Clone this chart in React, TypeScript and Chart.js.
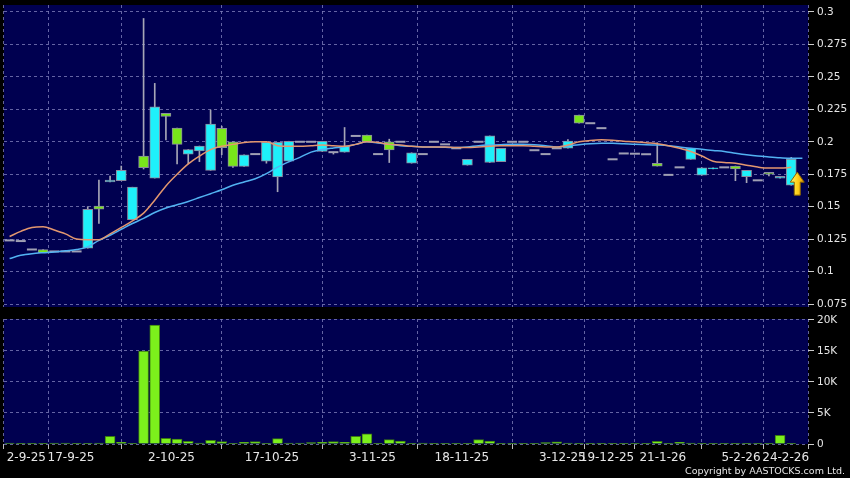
import React, { useEffect, useRef } from 'react';
import { Chart, registerables } from 'chart.js';

Chart.register(...registerables);

// ---- data ----
const tickDates = ['2-9-25', '17-9-25', '2-10-25', '17-10-25', '3-11-25', '18-11-25', '3-12-25', '19-12-25', '21-1-26', '5-2-26', '24-2-26'];
// index of the trading session each date label belongs to
const tickSessions = [2, 6, 15, 24, 33, 41, 50, 54, 59, 66, 70];

const opens = [
  0.124, 0.1235, 0.117, 0.117, 0.1155, 0.1155, 0.1155, 0.118, 0.1505, 0.169,
  0.170, 0.140, 0.189, 0.172, 0.222, 0.2105, 0.1905, 0.193, 0.178, 0.2104,
  0.200, 0.181, 0.1905, 0.185, 0.173, 0.185, 0.200, 0.200, 0.1925, 0.192,
  0.192, 0.2045, 0.2052, 0.1905, 0.200, 0.200, 0.1835, 0.1905, 0.200, 0.198,
  0.195, 0.182, 0.200, 0.184, 0.1847, 0.200, 0.200, 0.1935, 0.1905, 0.195,
  0.195, 0.2205, 0.2143, 0.2105, 0.1865, 0.191, 0.1908, 0.1904, 0.1834, 0.1745,
  0.1803, 0.1865, 0.1742, 0.179, 0.1803, 0.1813, 0.1731, 0.1703, 0.1765, 0.172,
  0.1665,
];
const highs = [
  0.124, 0.1235, 0.117, 0.117, 0.1155, 0.1155, 0.1155, 0.150, 0.1705, 0.1735,
  0.1813, 0.165, 0.295, 0.245, 0.222, 0.2105, 0.194, 0.1967, 0.2245, 0.212,
  0.200, 0.190, 0.1905, 0.1996, 0.1996, 0.2004, 0.200, 0.200, 0.2004, 0.192,
  0.211, 0.2045, 0.2052, 0.1905, 0.202, 0.200, 0.1915, 0.1905, 0.200, 0.198,
  0.195, 0.1865, 0.200, 0.2045, 0.195, 0.200, 0.200, 0.1935, 0.1905, 0.195,
  0.2017, 0.2205, 0.2143, 0.2105, 0.1865, 0.191, 0.1908, 0.1904, 0.1993, 0.1745,
  0.1803, 0.195, 0.180, 0.180, 0.1803, 0.1813, 0.178, 0.1703, 0.1765, 0.1734,
  0.188,
];
const lows = [
  0.124, 0.1235, 0.117, 0.1145, 0.1155, 0.1155, 0.1155, 0.118, 0.137, 0.169,
  0.170, 0.140, 0.179, 0.172, 0.2015, 0.183, 0.183, 0.1847, 0.178, 0.190,
  0.1803, 0.181, 0.1905, 0.1835, 0.1615, 0.185, 0.200, 0.200, 0.1925, 0.1905,
  0.192, 0.2045, 0.200, 0.1905, 0.184, 0.200, 0.1835, 0.1905, 0.200, 0.198,
  0.195, 0.182, 0.200, 0.184, 0.1847, 0.200, 0.200, 0.1935, 0.1905, 0.195,
  0.195, 0.2143, 0.2143, 0.2105, 0.1865, 0.191, 0.1908, 0.1904, 0.1813, 0.1745,
  0.1803, 0.1865, 0.1742, 0.179, 0.1803, 0.170, 0.1685, 0.1703, 0.1737, 0.172,
  0.1665,
];
const closes = [
  0.124, 0.1235, 0.117, 0.1145, 0.1155, 0.1155, 0.1155, 0.148, 0.148, 0.1705,
  0.178, 0.165, 0.180, 0.227, 0.2195, 0.198, 0.194, 0.1967, 0.2137, 0.1955,
  0.181, 0.190, 0.1905, 0.1996, 0.1996, 0.2004, 0.200, 0.200, 0.2004, 0.192,
  0.1967, 0.2045, 0.200, 0.1905, 0.1937, 0.200, 0.1915, 0.1905, 0.200, 0.198,
  0.195, 0.1865, 0.200, 0.2045, 0.195, 0.200, 0.200, 0.1935, 0.1905, 0.195,
  0.2005, 0.2143, 0.2143, 0.2105, 0.1865, 0.191, 0.1908, 0.1904, 0.1813, 0.1745,
  0.1803, 0.195, 0.180, 0.180, 0.1803, 0.179, 0.178, 0.1703, 0.175, 0.1734,
  0.1867,
];
const volumes = [
  150, 30, 30, 60, 150, 150, 20, 60, 150, 1250,
  270, 20, 15000, 19200, 920, 810, 430, 160, 600, 380,
  20, 270, 380, 100, 870, 160, 160, 220, 270, 380,
  270, 1250, 1630, 20, 700, 490, 50, 160, 100, 30,
  30, 50, 700, 490, 30, 20, 20, 100, 220, 330,
  160, 100, 100, 50, 20, 20, 50, 20, 430, 20,
  270, 160, 20, 50, 50, 100, 20, 20, 20, 1400,
  100,
];
const maShort = [
  0.127, 0.131, 0.134, 0.1345, 0.132, 0.129, 0.125, 0.1245, 0.1245, 0.129,
  0.134, 0.139, 0.145, 0.155, 0.166, 0.175, 0.183, 0.189, 0.194, 0.1965,
  0.198, 0.1995, 0.200, 0.200, 0.197, 0.1965, 0.1965, 0.197, 0.1975, 0.197,
  0.1965, 0.198, 0.200, 0.1995, 0.198, 0.1975, 0.1965, 0.196, 0.196, 0.196,
  0.1955, 0.1955, 0.196, 0.1965, 0.197, 0.197, 0.197, 0.1965, 0.196, 0.196,
  0.1975, 0.200, 0.201, 0.2015, 0.2012, 0.2005, 0.200, 0.1992, 0.1985, 0.197,
  0.195, 0.1925, 0.189, 0.185, 0.184, 0.1835, 0.182, 0.1805, 0.1797, 0.1797,
  0.1803,
];
const maLong = [
  0.110, 0.1125, 0.1138, 0.1145, 0.115, 0.116, 0.117, 0.119, 0.124, 0.128,
  0.1325, 0.137, 0.141, 0.1455, 0.149, 0.1515, 0.154, 0.157, 0.160, 0.163,
  0.1665, 0.169, 0.1715, 0.1755, 0.1805, 0.1845, 0.188, 0.192, 0.194, 0.1952,
  0.1962, 0.198, 0.200, 0.199, 0.198, 0.197, 0.1965, 0.196, 0.196, 0.1958,
  0.1955, 0.196, 0.197, 0.1975, 0.1978, 0.198, 0.198, 0.1978, 0.197, 0.196,
  0.1968, 0.1978, 0.1985, 0.1988, 0.1988, 0.1985, 0.198, 0.1978, 0.1975, 0.197,
  0.196, 0.195, 0.1942, 0.1933, 0.1925, 0.1912, 0.190, 0.189, 0.1883, 0.1877,
  0.1873, 0.1873,
];
const priceTicks = [0.075, 0.1, 0.125, 0.15, 0.175, 0.2, 0.225, 0.25, 0.275, 0.3];
const volumeTicks = [0, 5000, 10000, 15000, 20000];
const volumeTickLabels = ['0', '5K', '10K', '15K', '20K'];

// ---- styles ----
const NAVY = '#000050';
const GRID = 'rgba(125,125,185,0.8)';
const TEXT = '#e6e6e6';
const CYAN = '#1ef0fa';
const GREEN = '#78e61a';
const CANDLE_EDGE = '#8a8aa0';
const WICK = '#a6a6b6';
const DOJI = '#a0a0b4';
const VOL_GREEN = '#7cf01c';
const VOL_EDGE = '#3c7a12';
const MA_SHORT = '#e3976f';
const MA_LONG = '#52b2f2';
const FONT = '"DejaVu Sans", sans-serif';
const SLOTS = 72;

Chart.defaults.font.family = FONT;
Chart.defaults.color = TEXT;

const bgPlugin = {
  id: 'plotBg',
  beforeDraw(chart: any) {
    const { ctx, chartArea: a } = chart;
    ctx.save();
    ctx.fillStyle = NAVY;
    ctx.fillRect(a.left, a.top, a.right - a.left, a.bottom - a.top);
    ctx.restore();
  },
};

const arrowPlugin = {
  id: 'lastArrow',
  afterDatasetsDraw(chart: any) {
    const { ctx } = chart;
    const last = closes.length - 1;
    const cx = chart.scales.x.getPixelForValue(last) + 6;
    const tip = chart.scales.y.getPixelForValue((opens[last] + closes[last]) / 2);
    const len = 23, headH = 10, headW = 7, shaft = 3;
    ctx.save();
    const g = ctx.createLinearGradient(cx - headW, 0, cx + headW, 0);
    g.addColorStop(0, '#fff36a');
    g.addColorStop(0.5, '#ffd21a');
    g.addColorStop(1, '#e59a00');
    ctx.beginPath();
    ctx.moveTo(cx, tip);
    ctx.lineTo(cx + headW, tip + headH);
    ctx.lineTo(cx + shaft, tip + headH);
    ctx.lineTo(cx + shaft, tip + len);
    ctx.lineTo(cx - shaft, tip + len);
    ctx.lineTo(cx - shaft, tip + headH);
    ctx.lineTo(cx - headW, tip + headH);
    ctx.closePath();
    ctx.fillStyle = g;
    ctx.fill();
    ctx.lineWidth = 1;
    ctx.strokeStyle = '#8a6400';
    ctx.stroke();
    ctx.restore();
  },
};

function zeroPadding(s: any) {
  s.paddingTop = 0;
  s.paddingBottom = 0;
  s.paddingLeft = 0;
  s.paddingRight = 0;
}

function xAxis(showLabels: boolean) {
  return {
    type: 'linear',
    min: -0.5,
    max: SLOTS - 0.5,
    offset: false,
    afterBuildTicks: (axis: any) => {
      axis.ticks = tickSessions.map((s) => ({ value: s - 0.5 }));
    },
    ticks: {
      display: showLabels,
      autoSkip: false,
      maxRotation: 0,
      minRotation: 0,
      color: TEXT,
      font: { size: 12, family: FONT },
      padding: 2,
      callback: (_v: any, i: number) => tickDates[i],
    },
    grid: {
      color: GRID,
      drawTicks: showLabels,
      tickLength: 5,
      tickColor: '#bbbbbb',
      tickBorderDash: [],
    },
    border: { display: false, dash: [3, 3] },
    afterFit: (s: any) => {
      s.height = showLabels ? 34 : 3;
      zeroPadding(s);
    },
  };
}

function yAxis(min: number, max: number, ticks: number[], label: (v: number, i: number) => string) {
  return {
    type: 'linear',
    position: 'right',
    min,
    max,
    afterBuildTicks: (axis: any) => {
      axis.ticks = ticks.map((v) => ({ value: v }));
    },
    ticks: {
      color: TEXT,
      font: { size: 10.5, family: FONT },
      padding: 3,
      callback: (v: any, i: number) => label(Number(v), i),
    },
    grid: { color: GRID, drawTicks: true, tickLength: 6, tickColor: '#cccccc', tickBorderDash: [] },
    border: { display: false, dash: [3, 3] },
    afterFit: (s: any) => {
      s.width = 42;
      zeroPadding(s);
    },
  };
}

export default function App() {
  const priceRef = useRef<HTMLCanvasElement>(null);
  const volRef = useRef<HTMLCanvasElement>(null);

  useEffect(() => {
    document.body.style.margin = '0';
    document.body.style.background = '#000';
    const idx = opens.map((_, i) => i);
    const bodyIdx = idx.filter((i) => opens[i] !== closes[i]);
    const dojiIdx = idx.filter((i) => opens[i] === closes[i]);
    const wickIdx = idx.filter((i) => highs[i] > lows[i]);

    const priceChart = new Chart(priceRef.current as HTMLCanvasElement, {
      type: 'bar',
      data: {
        datasets: [
          {
            type: 'line',
            data: maShort.map((v, i) => ({ x: i, y: v })),
            borderColor: MA_SHORT,
            borderWidth: 1.5,
            pointRadius: 0,
            cubicInterpolationMode: 'monotone',
          } as any,
          {
            type: 'line',
            data: maLong.map((v, i) => ({ x: i, y: v })),
            borderColor: MA_LONG,
            borderWidth: 1.5,
            pointRadius: 0,
            cubicInterpolationMode: 'monotone',
          } as any,
          {
            type: 'line',
            data: dojiIdx.map((i) => ({ x: i, y: closes[i] })),
            showLine: false,
            pointStyle: 'line',
            pointRadius: 5,
            pointBorderWidth: 2,
            pointBorderColor: DOJI,
            borderColor: DOJI,
          } as any,
          {
            type: 'bar',
            data: bodyIdx.map((i) => ({ x: i, y: [opens[i], closes[i]] })),
            backgroundColor: bodyIdx.map((i) => (closes[i] > opens[i] ? CYAN : GREEN)),
            borderColor: CANDLE_EDGE,
            borderWidth: 1,
            borderSkipped: false,
            barThickness: 10,
            grouped: false,
          } as any,
          {
            type: 'bar',
            data: wickIdx.map((i) => ({ x: i, y: [lows[i], highs[i]] })),
            backgroundColor: WICK,
            borderWidth: 0,
            barThickness: 1,
            grouped: false,
          } as any,
        ],
      },
      options: {
        responsive: false,
        animation: false,
        devicePixelRatio: 1,
        events: [],
        layout: { autoPadding: false, padding: { left: 4, top: 5, right: 0, bottom: 0 } },
        plugins: { legend: { display: false }, tooltip: { enabled: false } },
        scales: {
          x: xAxis(false) as any,
          y: yAxis(0.07269, 0.30539, priceTicks, (v) => String(Number(v.toFixed(3)))) as any,
        },
      },
      plugins: [bgPlugin, arrowPlugin],
    });

    const volChart = new Chart(volRef.current as HTMLCanvasElement, {
      type: 'bar',
      data: {
        datasets: [
          {
            data: volumes.map((v, i) => ({ x: i, y: v })),
            backgroundColor: VOL_GREEN,
            borderColor: VOL_EDGE,
            borderWidth: 1,
            barThickness: 10,
            grouped: false,
          } as any,
        ],
      },
      options: {
        responsive: false,
        animation: false,
        devicePixelRatio: 1,
        events: [],
        layout: { autoPadding: false, padding: { left: 4, top: 9, right: 0, bottom: 0 } },
        plugins: { legend: { display: false }, tooltip: { enabled: false } },
        scales: {
          x: xAxis(true) as any,
          y: yAxis(0, 20161, volumeTicks, (_v, i) => volumeTickLabels[i]) as any,
        },
      },
      plugins: [bgPlugin],
    });

    return () => {
      priceChart.destroy();
      volChart.destroy();
    };
  }, []);

  return (
    <div style={{ position: 'relative', width: 850, height: 478, background: '#000', overflow: 'hidden' }}>
      <canvas ref={priceRef} width={850} height={310} style={{ position: 'absolute', left: 0, top: 0 }} />
      <canvas ref={volRef} width={850} height={168} style={{ position: 'absolute', left: 0, top: 310 }} />
      <div
        style={{
          position: 'absolute',
          right: 5,
          top: 465,
          fontFamily: FONT,
          fontSize: 9.5,
          color: TEXT,
          whiteSpace: 'nowrap',
          lineHeight: '12px',
        }}
      >
        Copyright by AASTOCKS.com Ltd.
      </div>
    </div>
  );
}
